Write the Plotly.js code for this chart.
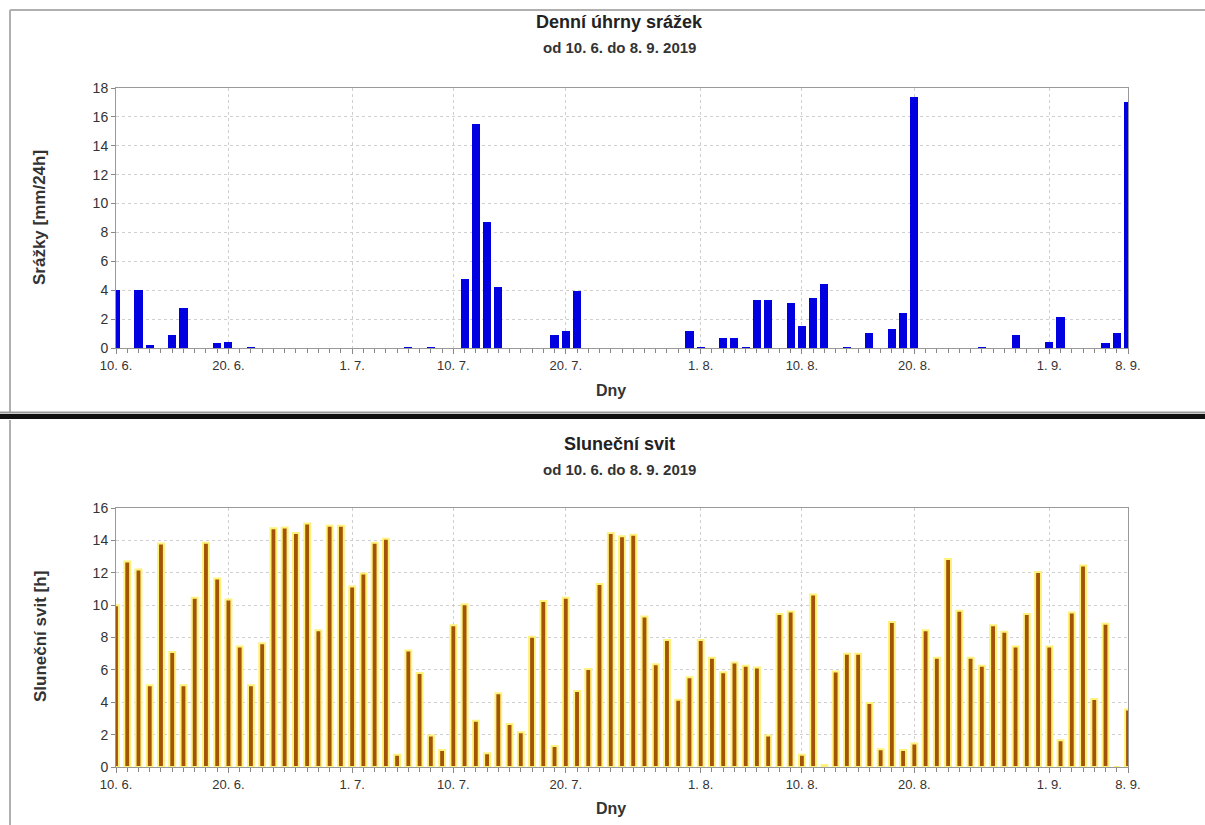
<!DOCTYPE html>
<html>
<head>
<meta charset="utf-8">
<script src="https://cdn.plot.ly/plotly-3.0.1.min.js"></script>
<style>
  html, body { margin: 0; padding: 0; background: #fff; }
  #chart { width: 1205px; height: 825px; }
</style>
</head>
<body>
<div id="chart"></div>
<script>
// ---- data ----
const startDate = '2019-06-10';
const dayCount = 91; // 10. 6. – 8. 9. 2019

// Denní úhrny srážek [mm/24h], one value per day from 10. 6.
const precipitation = [
  4.0, 0, 4.0, 0.2, 0, 0.9, 2.8, 0, 0, 0.35,
  0.45, 0, 0.05, 0, 0, 0, 0, 0, 0, 0,
  0, 0, 0, 0, 0, 0, 0.05, 0, 0.05, 0,
  0, 4.8, 15.5, 8.7, 4.2, 0, 0, 0, 0, 0.9,
  1.15, 3.95, 0, 0, 0, 0, 0, 0, 0, 0,
  0, 1.15, 0.1, 0, 0.7, 0.7, 0.05, 3.35, 3.3, 0,
  3.15, 1.55, 3.45, 4.4, 0, 0.05, 0, 1.05, 0, 1.35,
  2.45, 17.4, 0, 0, 0, 0, 0, 0.05, 0, 0,
  0.9, 0, 0, 0.45, 2.15, 0, 0, 0, 0.35, 1.05,
  17.0
];

// Sluneční svit [h], one value per day from 10. 6.
const sunshine = [
  10.0, 12.7, 12.2, 5.05, 13.8, 7.1, 5.05, 10.45, 13.85, 11.65,
  10.35, 7.45, 5.05, 7.65, 14.75, 14.8, 14.45, 15.05, 8.45, 14.9,
  14.9, 11.15, 11.95, 13.85, 14.1, 0.75, 7.2, 5.8, 1.95, 1.05,
  8.75, 10.05, 2.85, 0.85, 4.55, 2.65, 2.15, 8.05, 10.25, 1.3,
  10.45, 4.7, 6.05, 11.3, 14.45, 14.25, 14.35, 9.3, 6.35, 7.85,
  4.15, 5.55, 7.85, 6.75, 5.85, 6.45, 6.25, 6.15, 1.95, 9.45,
  9.6, 0.75, 10.65, 0.12, 5.9, 7.0, 7.0, 3.95, 1.1, 8.95,
  1.05, 1.45, 8.45, 6.75, 12.85, 9.65, 6.75, 6.25, 8.75, 8.35,
  7.45, 9.45, 12.05, 7.45, 1.65, 9.55, 12.45, 4.2, 8.85, 0,
  3.55
];

const tickDates = ['2019-06-10','2019-06-20','2019-07-01','2019-07-10','2019-07-20',
                   '2019-08-01','2019-08-10','2019-08-20','2019-09-01','2019-09-08'];
const tickLabels = ['10. 6.','20. 6.','1. 7.','10. 7.','20. 7.',
                    '1. 8.','10. 8.','20. 8.','1. 9.','8. 9.'];

const titleTop = 'Denní úhrny srážek';
const titleBottom = 'Sluneční svit';
const subtitle = 'od 10. 6. do 8. 9. 2019';
const yTitleTop = 'Srážky [mm/24h]';
const yTitleBottom = 'Sluneční svit [h]';
const xTitle = 'Dny';

// dates for each day (categories)
const days = [];
for (let i = 0; i < dayCount; i++) {
  const d = new Date(startDate + 'T00:00:00Z');
  d.setUTCDate(d.getUTCDate() + i);
  days.push(d.toISOString().slice(0, 10));
}

// ---- layout helpers (pixel -> paper) ----
const W = 1205, H = 825;
const px = v => v / W;
const py = v => 1 - v / H;
const DAY_MS = 86400000;
const FONT = 'Arial, "Liberation Sans", sans-serif';

const xCommon = {
  type: 'date',
  range: [days[0], days[days.length - 1]],
  domain: [px(116), px(1128)],
  tickmode: 'array',
  tickvals: tickDates,
  ticktext: tickLabels,
  ticks: 'outside',
  ticklen: 5,
  tickcolor: '#888',
  tickfont: { family: FONT, size: 13, color: '#333' },
  showgrid: true,
  gridcolor: '#cfcfcf',
  griddash: 'dot',
  gridwidth: 1,
  showline: true,
  linecolor: '#999',
  linewidth: 1,
  mirror: true,
  zeroline: false,
  fixedrange: true,
  minor: { dtick: DAY_MS, tick0: days[0], ticks: 'outside', ticklen: 4, tickcolor: '#888', showgrid: false }
};

const yCommon = {
  ticks: 'outside',
  ticklen: 4,
  tickcolor: '#888',
  tickfont: { family: FONT, size: 14, color: '#333' },
  showgrid: true,
  gridcolor: '#cfcfcf',
  griddash: 'dot',
  showline: true,
  linecolor: '#999',
  linewidth: 1,
  mirror: true,
  zeroline: false,
  fixedrange: true
};

const traces = [
  {
    type: 'bar',
    x: days,
    y: precipitation,
    xaxis: 'x',
    yaxis: 'y',
    width: 0.72 * DAY_MS,
    marker: { color: '#0000e0', line: { width: 0 } },
    cliponaxis: false,
    hoverinfo: 'x+y'
  },
  {
    type: 'bar',
    x: days,
    y: sunshine,
    xaxis: 'x2',
    yaxis: 'y2',
    width: 0.52 * DAY_MS,
    marker: { color: '#a35408', line: { color: '#fff27a', width: 2 } },
    cliponaxis: false,
    hoverinfo: 'x+y'
  }
];

function label(text, x, y, size, angle, color) {
  return {
    text: '<b>' + text + '</b>', x: px(x), y: py(y), xref: 'paper', yref: 'paper',
    xanchor: 'center', yanchor: 'middle', textangle: angle || 0,
    showarrow: false, font: { family: FONT, size: size, color: color || '#222' }
  };
}

const layout = {
  width: W,
  height: H,
  margin: { l: 0, r: 0, t: 0, b: 0 },
  paper_bgcolor: '#fff',
  plot_bgcolor: '#fff',
  showlegend: false,
  bargap: 0,
  xaxis: Object.assign({}, xCommon, { anchor: 'y' }),
  yaxis: Object.assign({}, yCommon, {
    domain: [py(348), py(88)], range: [0, 18], dtick: 2, anchor: 'x'
  }),
  xaxis2: Object.assign({}, xCommon, { anchor: 'y2' }),
  yaxis2: Object.assign({}, yCommon, {
    domain: [py(767), py(508)], range: [0, 16], dtick: 2, anchor: 'x2'
  }),
  annotations: [
    label(titleTop, 620, 22, 18),
    label(subtitle, 620, 47, 15, 0, '#333'),
    label(titleBottom, 620, 444, 18),
    label(subtitle, 620, 469, 15, 0, '#333'),
    label(yTitleTop, 40, 218, 17, -90, '#333'),
    label(yTitleBottom, 40, 637, 17, -90, '#333'),
    label(xTitle, 611, 391, 16, 0, '#333'),
    label(xTitle, 611, 808, 16, 0, '#333')
  ],
  shapes: [
    // top panel frame
    { type: 'line', xref: 'paper', yref: 'paper', x0: px(10), x1: px(10), y0: py(10), y1: py(412),
      line: { color: '#b0b0b0', width: 2 } },
    { type: 'line', xref: 'paper', yref: 'paper', x0: px(10), x1: 1, y0: py(10), y1: py(10),
      line: { color: '#b0b0b0', width: 2 } },
    // separator
    { type: 'line', xref: 'paper', yref: 'paper', x0: 0, x1: 1, y0: py(412.5), y1: py(412.5),
      line: { color: '#9a9a9a', width: 2 } },
    { type: 'line', xref: 'paper', yref: 'paper', x0: 0, x1: 1, y0: py(416.5), y1: py(416.5),
      line: { color: '#111', width: 5 } },
    // bottom panel frame
    { type: 'line', xref: 'paper', yref: 'paper', x0: px(10), x1: px(10), y0: py(420), y1: 0,
      line: { color: '#b0b0b0', width: 2 } }
  ]
};

Plotly.newPlot('chart', traces, layout, { staticPlot: true, displayModeBar: false });
</script>
</body>
</html>
